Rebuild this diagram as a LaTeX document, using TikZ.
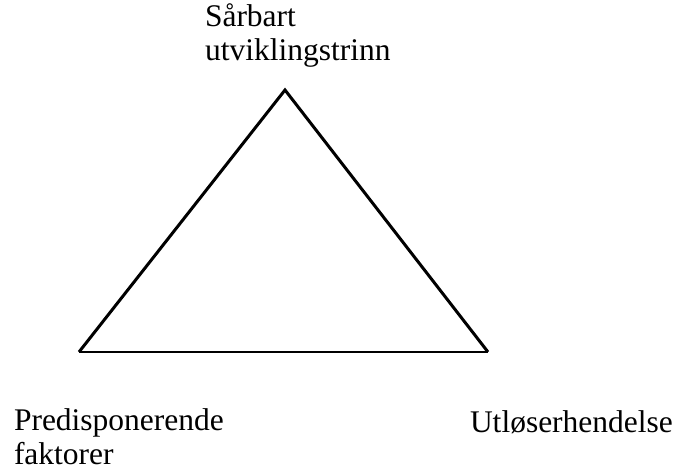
\documentclass[tikz,border=0pt]{standalone}
\usepackage{fontspec}
\setmainfont{Liberation Serif}
\begin{document}
\begin{tikzpicture}[x=1pt,y=-1pt,
  lbl/.style={inner sep=0pt,outer sep=0pt,align=left,anchor=north west,
    font=\fontsize{31.5}{33.5}\selectfont},
  side/.style={line width=3pt,line join=miter},
  base/.style={line width=1.5pt}]
\useasboundingbox (0,0) rectangle (678,471);
\coordinate (top) at (285,90);
\coordinate (bl) at (79,352);
\coordinate (br) at (488,352);
\draw[side] (bl) -- (top) -- (br);
\draw[base] (bl) -- (br);
\node[lbl] (vul) at (205,4) {Sårbart\\utviklingstrinn};
\node[lbl] (pre) at (14,409) {Predisponerende\\faktorer};
\node[lbl] (utl) at (470,410.5) {Utløserhendelse};
\end{tikzpicture}
\end{document}
